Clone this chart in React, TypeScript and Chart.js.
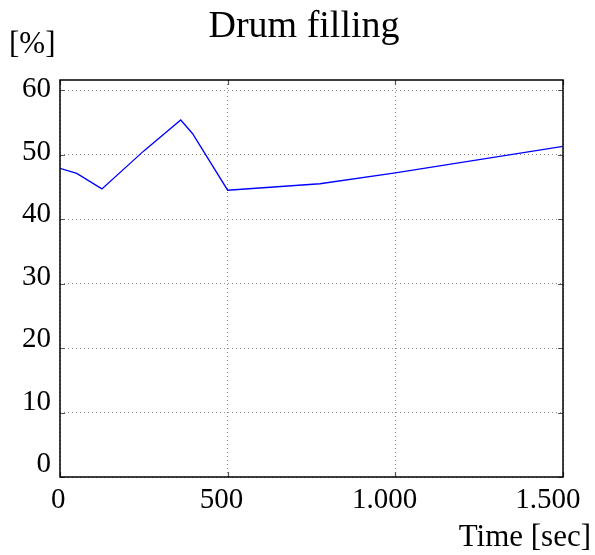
import React, { useEffect, useRef } from "react";
import { Chart, registerables } from "chart.js";

Chart.register(...registerables);

// Drum filling level over time
const timeSec = [0, 50, 125, 250, 360, 395, 500, 775, 1000, 1500];
const fillingPct = [47.9, 47.1, 44.7, 50.6, 55.4, 53.3, 44.5, 45.5, 47.2, 51.3];
const xTickValues = [0, 500, 1000, 1500];
const yTickValues = [0, 10, 20, 30, 40, 50, 60];

const titleText = "Drum filling";
const yUnitText = "[%]";
const xAxisText = "Time [sec]";

const SERIF = "'Liberation Serif', 'DejaVu Serif', serif";

// thousands separator as a dot
const formatThousands = (v: number) =>
  String(Math.round(v)).replace(/\B(?=(\d{3})+(?!\d))/g, ".");

const frameAndLabels = {
  id: "frameAndLabels",
  afterDraw(chart: any) {
    const { ctx, chartArea, scales } = chart;
    const { left, right, top, bottom } = chartArea;
    ctx.save();

    // inward tick marks on all four sides
    ctx.strokeStyle = "#555";
    ctx.lineWidth = 1.2;
    const tl = 5;
    xTickValues.forEach((v) => {
      const px = Math.round(scales.x.getPixelForValue(v)) + 0.5;
      ctx.beginPath();
      ctx.moveTo(px, bottom);
      ctx.lineTo(px, bottom - tl);
      ctx.moveTo(px, top);
      ctx.lineTo(px, top + tl);
      ctx.stroke();
    });
    yTickValues.forEach((v) => {
      const py = Math.round(scales.y.getPixelForValue(v)) + 0.5;
      ctx.beginPath();
      ctx.moveTo(left, py);
      ctx.lineTo(left + tl, py);
      ctx.moveTo(right, py);
      ctx.lineTo(right - tl, py);
      ctx.stroke();
    });

    // box around the plot
    ctx.strokeStyle = "#000";
    ctx.lineWidth = 1.5;
    ctx.strokeRect(left, top, right - left, bottom - top);

    // titles
    ctx.fillStyle = "#000";
    ctx.textBaseline = "alphabetic";
    ctx.font = `38px ${SERIF}`;
    ctx.textAlign = "center";
    ctx.fillText(titleText, 304, 36.5);

    ctx.font = `31px ${SERIF}`;
    ctx.textAlign = "left";
    ctx.fillText(yUnitText, 9, 52.5);

    ctx.textAlign = "right";
    ctx.fillText(xAxisText, 591, 546);
    ctx.restore();
  },
};

const gridOpts = {
  color: "#8c8c8c",
  lineWidth: 1,
  drawTicks: false,
  tickLength: 0,
};

export default function App() {
  const canvasRef = useRef<HTMLCanvasElement | null>(null);

  useEffect(() => {
    if (!canvasRef.current) return;
    const chart = new Chart(canvasRef.current, {
      type: "line",
      data: {
        datasets: [
          {
            data: timeSec.map((t, i) => ({ x: t, y: fillingPct[i] })),
            borderColor: "#0000ff",
            borderWidth: 1.3,
            pointRadius: 0,
            tension: 0,
            fill: false,
            xAxisID: "x",
            yAxisID: "y",
          },
        ],
      },
      options: {
        responsive: false,
        animation: false,
        events: [],
        layout: { padding: { top: 80, left: 0, right: 32, bottom: 0 } },
        plugins: {
          legend: { display: false },
          title: { display: false },
          tooltip: { enabled: false },
        },
        scales: {
          // data axes: grid only
          x: {
            type: "linear",
            position: "bottom",
            min: 0,
            max: 1500,
            afterFit: (s: any) => {
              s.height = 0;
            },
            afterBuildTicks: (s: any) => {
              s.ticks = xTickValues.map((v) => ({ value: v }));
            },
            ticks: { display: false },
            grid: gridOpts,
            border: { display: false, dash: [1, 3] },
          },
          y: {
            type: "linear",
            position: "left",
            min: 0,
            max: 61.6,
            afterFit: (s: any) => {
              s.width = 0;
            },
            afterBuildTicks: (s: any) => {
              s.ticks = yTickValues.map((v) => ({ value: v }));
            },
            ticks: { display: false },
            grid: gridOpts,
            border: { display: false, dash: [1, 3] },
          },
          // tick-label axes
          xLabels: {
            type: "linear",
            position: "bottom",
            min: 5.5,
            max: 1546,
            afterFit: (s: any) => {
              s.height = 78;
            },
            afterBuildTicks: (s: any) => {
              s.ticks = xTickValues.map((v) => ({ value: v }));
            },
            ticks: {
              color: "#000",
              font: { family: SERIF, size: 29 },
              padding: 6,
              maxRotation: 0,
              autoSkip: false,
              callback: (v: any) => formatThousands(Number(v)),
            },
            grid: { display: false, drawTicks: false, tickLength: 0 },
            border: { display: false },
          },
          yLabels: {
            type: "linear",
            position: "left",
            min: -1.95,
            max: 61.52,
            afterFit: (s: any) => {
              s.width = 60;
            },
            afterBuildTicks: (s: any) => {
              s.ticks = yTickValues.map((v) => ({ value: v }));
            },
            ticks: {
              color: "#000",
              font: { family: SERIF, size: 29 },
              padding: 9,
              autoSkip: false,
              callback: (v: any) => String(v),
            },
            grid: { display: false, drawTicks: false, tickLength: 0 },
            border: { display: false },
          },
        },
      },
      plugins: [frameAndLabels],
    } as any);

    return () => chart.destroy();
  }, []);

  return (
    <div style={{ position: "absolute", left: 0, top: 0, width: 595, height: 555 }}>
      <canvas ref={canvasRef} width={595} height={555} />
    </div>
  );
}
